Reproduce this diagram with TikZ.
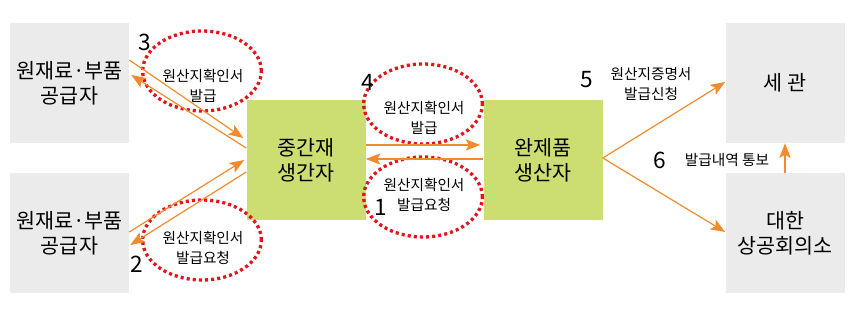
\documentclass[tikz,border=0pt]{standalone}
\usepackage{fontspec}
\setmainfont{Noto Sans CJK KR}
\usetikzlibrary{arrows.meta,calc,shapes.geometric}
\definecolor{boxgray}{HTML}{EBEBEB}
\definecolor{boxgreen}{HTML}{CCDD72}
\definecolor{arrorange}{HTML}{F28A2E}
\definecolor{dotred}{HTML}{E3141C}
\begin{document}
\begin{tikzpicture}[x=0.75pt, y=-0.75pt,
  >={Stealth[length=11pt, width=8.5pt, inset=2.5pt]},
  party/.style={fill=boxgray, minimum width=89.25pt, minimum height=90pt, align=center, font=\fontsize{15.5}{18.5}\selectfont},
  maker/.style={party, fill=boxgreen},
  flow/.style={->, arrorange, line width=0.9pt},
  stamp/.style={draw=dotred, ellipse, line width=2.5pt, dash pattern=on 2.3pt off 2.3pt, minimum width=89pt, minimum height=60pt, inner sep=0pt},
  note/.style={align=center, font=\fontsize{11}{14.5}\selectfont},
  num/.style={font=\fontsize{17}{17}\selectfont}]
\useasboundingbox (0,0) rectangle (859,313);
\node[party](S1) at (69.5,83){원재료·부품\\공급자};
\node[party](S2) at (69.5,233){원재료·부품\\공급자};
\node[maker](M) at (306,160){중간재\\생간자};
\node[maker](F) at (543,160){완제품\\생산자};
\node[party](C) at (785,83){세 관};
\node[party](K) at (785,233){대한\\상공회의소};

\node[stamp](E3) at (202,71){};
\node[stamp](E2) at (202,240){};
\node[stamp](E4) at (423,104){};
\node[stamp](E1) at (423,197){};

\draw[flow] ($(S1.east)+(0,-23)$) -- ($(M.west)+(-3,-22)$);
\draw[flow] ($(M.west)+(0,-12)$) -- ($(S1.east)+(2,-8)$);
\draw[flow] ($(S2.east)+(0,-1)$) -- ($(M.west)+(-2,0)$);
\draw[flow] ($(M.west)+(0,12)$) -- ($(S2.east)+(1,12)$);
\draw[flow] ($(M.east)+(0,-15)$) -- ($(F.west)+(-3,-15)$);
\draw[flow] ($(F.west)+(0,-1)$) -- ($(M.east)+(0,-1)$);
\draw[flow] ($(F.east)+(0,-2)$) -- ($(C.west)+(0,-1)$);
\draw[flow] ($(F.east)+(0,-2)$) -- ($(K.west)+(0,-1)$);
\draw[flow] (K.north) -- (C.south);

\node[note](T3) at (203,86){원산지확인서\\발급};
\node[note](T2) at (203,248){원산지확인서\\발급요청};
\node[note](T4) at (424,118){원산지확인서\\발급};
\node[note](T1) at (424,195){원산지확인서\\발급요청};
\node[note](T5) at (651,84){원산지증명서\\발급신청};
\node[note](T6) at (727,160){발급내역 통보};

\node[num](N3) at (145,42){3};
\node[num](N2) at (137,264){2};
\node[num](N4) at (368,82){4};
\node[num](N1) at (381,207){1};
\node[num](N5) at (587,80){5};
\node[num](N6) at (660,160){6};
\end{tikzpicture}
\end{document}
